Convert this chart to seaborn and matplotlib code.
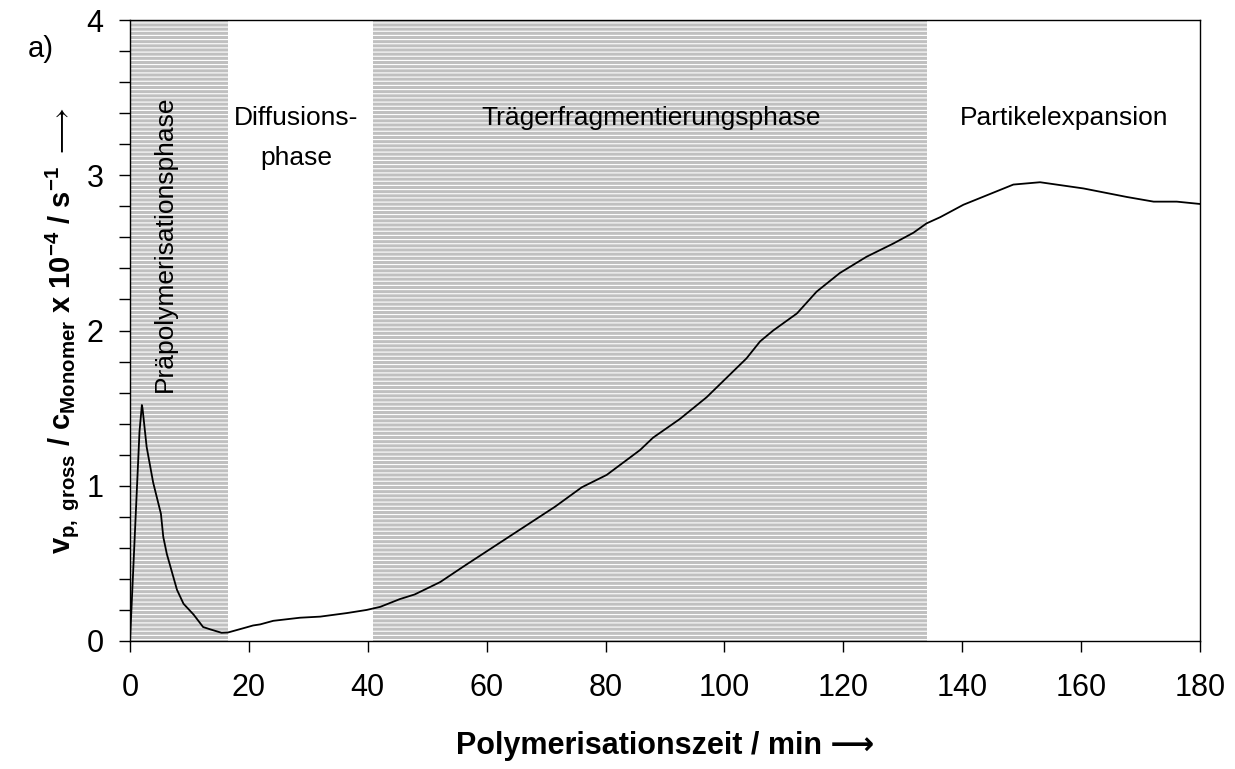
import matplotlib
matplotlib.use("Agg")
import matplotlib.pyplot as plt
import seaborn as sns
import numpy as np
from matplotlib.ticker import MultipleLocator

# ---- data ----
time_min = [0, 1.6, 2.0, 2.1, 2.8, 3.9, 5.2, 5.6, 6.2, 7.9, 9.0, 10.7, 12.3, 13.5,
            15.4, 16.5, 19.6, 20.7, 21.9, 24.1, 28.6, 32.0, 36.5, 39.8, 42.1, 45.4,
            47.9, 52.2, 56.1, 58.9, 64.5, 71.5, 76.0, 80.2, 85.8, 88.0, 92.5, 97.0,
            103.7, 106.0, 108.2, 112.2, 115.5, 119.4, 123.9, 128.4, 131.8, 134.0,
            136.3, 140.2, 148.6, 153.1, 160.4, 167.7, 172.2, 176.1, 180]
rate = [0, 1.35, 1.52, 1.50, 1.25, 1.02, 0.82, 0.67, 0.56, 0.33, 0.24, 0.17, 0.09,
        0.075, 0.053, 0.055, 0.088, 0.10, 0.107, 0.13, 0.15, 0.157, 0.18, 0.20, 0.22,
        0.27, 0.30, 0.38, 0.48, 0.55, 0.69, 0.865, 0.99, 1.07, 1.23, 1.31, 1.43, 1.57,
        1.82, 1.93, 2.00, 2.11, 2.25, 2.37, 2.475, 2.56, 2.63, 2.69, 2.73, 2.81, 2.94,
        2.955, 2.915, 2.86, 2.83, 2.83, 2.815]

shaded_start = [0, 40.8]
shaded_end = [16.5, 134.1]

phase_labels = ["Präpolymerisationsphase", "Diffusions-\nphase",
                "Trägerfragmentierungsphase", "Partikelexpansion"]
phase_x = [5.8, 28.0, 87.6, 157.1]
phase_y = [2.56, 3.24, 3.37, 3.37]
phase_rot = [90, 0, 0, 0]

x_ticks = list(range(0, 181, 20))
y_ticks = [0, 1, 2, 3, 4]

# ---- style ----
sns.set_theme(style="ticks")
plt.rcParams["font.family"] = ["Liberation Sans", "DejaVu Sans"]
plt.rcParams["mathtext.fontset"] = "custom"
plt.rcParams["mathtext.rm"] = "Liberation Sans"
plt.rcParams["mathtext.bf"] = "Liberation Sans:bold"
plt.rcParams["mathtext.it"] = "Liberation Sans:italic"
plt.rcParams["hatch.linewidth"] = 0.8
plt.rcParams["hatch.color"] = "white"

fig = plt.figure(figsize=(12.35, 7.69), dpi=100)
ax = fig.add_axes([130 / 1235, 1 - 641 / 769, (1200 - 130) / 1235, (641 - 20) / 769])

for s, e in zip(shaded_start, shaded_end):
    ax.axvspan(s, e, facecolor="#c0c0c0", edgecolor="white", hatch="----",
               linewidth=0, zorder=0)

sns.lineplot(x=time_min, y=rate, ax=ax, color="black", linewidth=1.3, zorder=3)

ax.set_xlim(0, 180)
ax.set_ylim(0, 4)
ax.set_xticks(x_ticks)
ax.set_yticks(y_ticks)
ax.yaxis.set_minor_locator(MultipleLocator(0.2))
ax.tick_params(axis="both", which="both", direction="out", length=8, width=1,
               color="black", labelsize=22, labelcolor="black")
ax.tick_params(axis="x", pad=15)
ax.tick_params(axis="y", pad=11)
for sp in ax.spines.values():
    sp.set_visible(True)
    sp.set_color("black")
    sp.set_linewidth(1.0)

for lab, x, y, r in zip(phase_labels, phase_x, phase_y, phase_rot):
    ax.text(x, y, lab, rotation=r, ha="center", va="center", fontsize=19,
            color="black", linespacing=1.83, zorder=4)

ax.set_xlabel("Polymerisationszeit / min \u27f6", fontsize=22, fontweight="bold",
              color="black", labelpad=20)
ylab = (r"$\mathbf{v}_{\mathbf{p,\ gross}}\mathbf{\ /\ c}_{\mathbf{Monomer}}"
        r"\mathbf{\ x\ 10}^{\mathbf{-4}}\mathbf{\ /\ s}^{\mathbf{-1}}\ \longrightarrow$")
ax.set_ylabel(ylab, fontsize=21, color="black", labelpad=4)

fig.text(41 / 1235, 1 - 49 / 769, "a)", fontsize=21, ha="center", va="center",
         color="black")

fig.savefig("out.png", dpi=100, facecolor="white")
